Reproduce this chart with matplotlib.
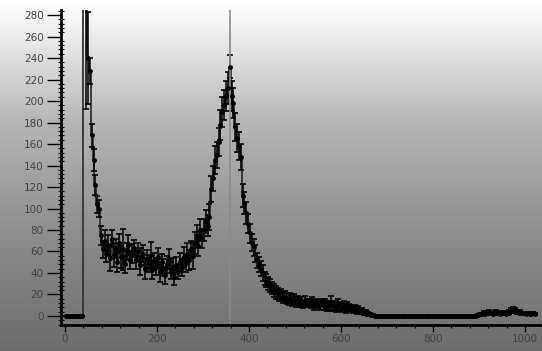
import numpy as np
import matplotlib
matplotlib.use("Agg")
import matplotlib.pyplot as plt
from matplotlib.ticker import MultipleLocator

# spectrum, 4-channel bins
bin_width = 4
counts = ([0] * 10
          + [520, 330, 240, 228, 168, 145, 122, 104, 100]
          + [75, 62, 70, 58, 66, 54, 72, 57, 63, 50, 68, 55, 62, 48, 60, 66, 52, 58, 63]
          + [52, 60, 47, 55, 58, 44, 53, 49, 57, 43, 51, 46, 55, 41, 50, 45, 38, 48, 53, 42, 46, 36, 47, 41, 50]
          + [45, 55, 49, 58, 52, 62, 56, 68, 74, 65, 80, 72]
          + [80, 88, 84, 92]
          + [118, 128, 145, 150, 162, 178, 190, 196, 205, 212, 232, 205, 198, 176, 166, 158, 148, 112, 105, 96, 86, 77]
          + [68, 64, 58, 52, 48, 44, 40, 35, 33, 30, 28, 26, 24, 22, 21, 19, 20, 17, 18, 16, 15, 16, 14, 15]
          + [13, 14, 12, 13, 11, 14, 12, 12, 11, 13, 10, 12, 11, 10, 12]
          + [10, 11, 9, 10, 12, 9, 10, 8, 11, 9, 8, 10, 7, 9, 8, 7]
          + [6, 7, 5, 6, 4, 5, 3, 4, 2, 2, 1, 1]
          + [0] * 56
          + [1, 2, 2, 3, 2, 3, 4, 3, 2, 3, 4, 3, 2, 3, 3, 2, 3, 4, 5, 6, 5, 4, 3, 4, 3, 3, 2, 3, 2, 2, 3, 2])

errors = ([0] * 10
          + [150, 137, 43, 12, 11, 10, 9, 8, 8]
          + [9, 8, 10, 8, 9, 12, 8, 11, 9, 9, 8, 10, 19, 8, 8, 9, 8, 9, 8]
          + [8, 8, 9, 8, 8, 10, 8, 8, 12, 9, 8, 8, 8, 9, 8, 8, 8, 8, 9, 8, 8, 7, 8, 7, 9]
          + [8, 9, 8, 10, 9, 8, 12, 10, 11, 9, 10, 9]
          + [10, 11, 10, 12]
          + [12, 12, 13, 12, 13, 14, 14, 14, 14, 15, 11, 14, 14, 13, 13, 13, 12, 11, 10, 10, 9, 9]
          + [8, 8, 8, 7, 7, 7, 7, 6, 6, 6, 6, 6, 6, 6, 5, 5, 5, 5, 5, 5, 5, 5, 5, 5]
          + [5, 5, 4, 5, 4, 5, 4, 4, 4, 5, 4, 4, 4, 4, 4]
          + [4, 5, 4, 4, 7, 4, 4, 4, 5, 4, 4, 4, 4, 4, 3, 3]
          + [3, 3, 3, 3, 2, 2, 2, 2, 2, 1, 1, 1]
          + [0] * 56
          + [1, 1, 1, 2, 1, 2, 2, 1, 1, 2, 2, 1, 1, 2, 1, 1, 2, 2, 2, 2, 2, 2, 1, 2, 1, 1, 1, 1, 1, 1, 1, 1])

centers = np.arange(len(counts)) * bin_width + bin_width / 2
marker_x = 358.7

fig = plt.figure(figsize=(5.42, 3.51), dpi=100)

# grey gradient background over the whole figure
bg = fig.add_axes([0, 0, 1, 1], zorder=-1)
rows = np.arange(351)
shade = np.interp(rows, [0, 12, 120, 230, 351], [255, 250, 182, 142, 108]) / 255.0
bg.imshow(np.repeat(shade[:, None], 2, axis=1), cmap="gray", vmin=0, vmax=1,
          aspect="auto", extent=[0, 1, 0, 1])
bg.axis("off")

ax = fig.add_axes([61 / 542, 26 / 351, 479 / 542, 315 / 351])
ax.patch.set_alpha(0)

ax.plot(centers, counts, drawstyle="steps-mid", color="#333333", lw=1.3)
ax.errorbar(centers, counts, yerr=errors, fmt="o", ms=2.5, color="black",
            ecolor="black", elinewidth=1.1, capsize=2.5, capthick=1.2)
ax.axvline(marker_x, color="#8a8a8a", lw=1.2)

ax.set_xlim(-8.7, 1032.6)
ax.set_ylim(-8.4, 284.7)

for s in ["top", "right"]:
    ax.spines[s].set_visible(False)
for s in ["left", "bottom"]:
    ax.spines[s].set_linewidth(2)

ax.xaxis.set_major_locator(MultipleLocator(200))
ax.xaxis.set_minor_locator(MultipleLocator(40))
ax.yaxis.set_major_locator(MultipleLocator(20))
ax.yaxis.set_minor_locator(MultipleLocator(4))

ax.tick_params(axis="y", which="major", direction="out", length=10, width=1,
               pad=2.5, labelsize=7.5, labelcolor="#404040")
ax.tick_params(axis="y", which="minor", direction="inout", length=4, width=0.8)
ax.tick_params(axis="x", which="major", direction="out", length=5, width=1,
               pad=1.5, labelsize=7.5, labelcolor="#404040")
ax.tick_params(axis="x", which="minor", direction="out", length=2, width=0.8)

fig.savefig("out.png", dpi=100)
